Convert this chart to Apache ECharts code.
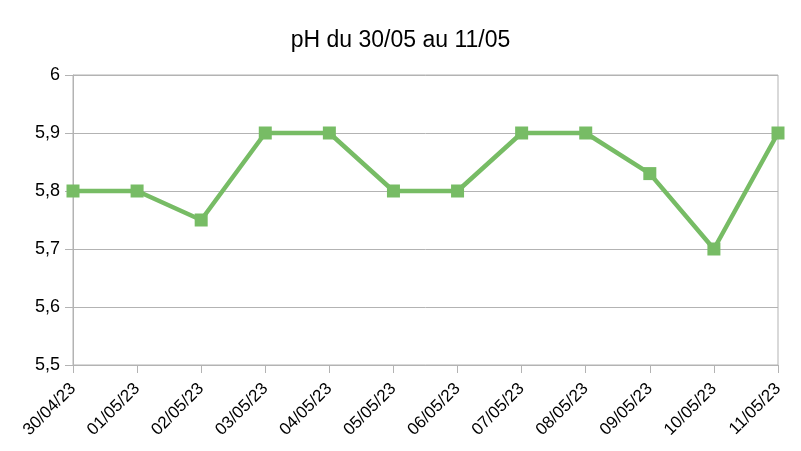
<!DOCTYPE html>
<html><head><meta charset="utf-8">
<script src="https://cdn.jsdelivr.net/npm/echarts@6/dist/echarts.min.js"></script>
<style>html,body{margin:0;padding:0;background:#fff}#c{width:801px;height:451px}</style>
</head><body><div id="c"></div>
<script>
var categories = ['30/04/23','01/05/23','02/05/23','03/05/23','04/05/23','05/05/23','06/05/23','07/05/23','08/05/23','09/05/23','10/05/23','11/05/23'];
var phValues = [5.8, 5.8, 5.75, 5.9, 5.9, 5.8, 5.8, 5.9, 5.9, 5.83, 5.7, 5.9];
var titleText = 'pH du 30/05 au 11/05';
var chart = echarts.init(document.getElementById('c'));
chart.setOption({
  animation: false,
  title: {text: titleText, left: 'center', top: 24, textStyle: {fontFamily: 'Liberation Sans', fontSize: 23, fontWeight: 'normal', color: '#000'}},
  grid: {left: 73, right: 23, top: 75, bottom: 86, show: true, borderColor: '#b3b3b3', borderWidth: 1},
  xAxis: {type: 'category', data: categories, boundaryGap: false,
    axisLine: {lineStyle: {color: '#b3b3b3'}},
    axisTick: {show: true, length: 8, lineStyle: {color: '#b3b3b3'}},
    axisLabel: {rotate: 45, margin: 21, fontFamily: 'Liberation Sans', fontSize: 17, color: '#000', interval: 0}},
  yAxis: {type: 'value', min: 5.5, max: 6, interval: 0.1,
    axisLine: {show: true, lineStyle: {color: '#b3b3b3'}},
    axisTick: {show: true, length: 8, lineStyle: {color: '#b3b3b3'}},
    splitLine: {lineStyle: {color: '#b3b3b3'}},
    axisLabel: {margin: 13, fontFamily: 'Liberation Sans', fontSize: 18, color: '#000',
      formatter: function(v){ return String(+v.toFixed(1)).replace('.', ','); }}},
  series: [{type: 'line', data: phValues, symbol: 'rect', symbolSize: 13,
    lineStyle: {color: '#77bc65', width: 4.5}, itemStyle: {color: '#77bc65'}}]
});
</script></body></html>
